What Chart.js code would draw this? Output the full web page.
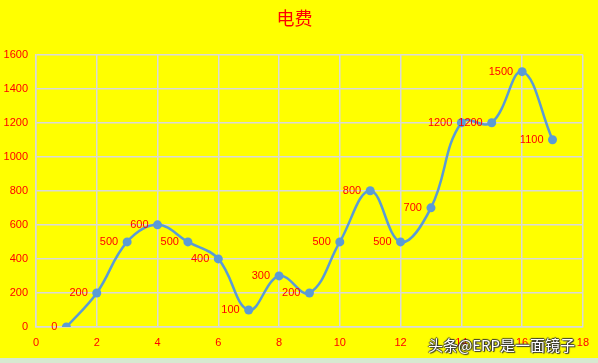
<!DOCTYPE html>
<html>
<head>
<meta charset="utf-8">
<script src="https://cdn.jsdelivr.net/npm/chart.js@4"></script>
<style>
    html, body { margin: 0; padding: 0; background: #FFFF00; }
    #wrap { position: relative; width: 598px; height: 363px; overflow: hidden; }
    #strip { position: absolute; left: 0; top: 358px; width: 598px; height: 5px; background: #D6E9D0; }
    #mark {
        position: absolute; left: 428px; top: 334px;
        font-family: "Noto Sans CJK SC", sans-serif; font-size: 15px; color: #fff;
        text-shadow: 1px 1px 1px #333, -1px 0 1px #333, 0 -1px 1px #333, 1px 0 1px #333;
    }
</style>
</head>
<body>
<div id="wrap">
    <canvas id="c" width="598" height="358"></canvas>
    <div id="strip"></div>
    <div id="mark">头条@ERP是一面镜子</div>
</div>
<script>
// 数据
const months = [1, 2, 3, 4, 5, 6, 7, 8, 9, 10, 11, 12, 13, 14, 15, 16, 17];
const fees = [0, 200, 500, 600, 500, 400, 100, 300, 200, 500, 800, 500, 700, 1200, 1200, 1500, 1100];
const xTicks = [0, 2, 4, 6, 8, 10, 12, 14, 16, 18];
const yTicks = [0, 200, 400, 600, 800, 1000, 1200, 1400, 1600];

const lineColor = '#5B9BD5';
const red = '#FF0000';
const gridColor = '#D9D9D9';

// 数据标签画在点的左边
const labelPlugin = {
    id: 'leftLabels',
    afterDatasetsDraw(chart) {
        const ctx = chart.ctx;
        const meta = chart.getDatasetMeta(0);
        ctx.save();
        ctx.font = '11px "Liberation Sans", sans-serif';
        ctx.fillStyle = red;
        ctx.textAlign = 'right';
        ctx.textBaseline = 'middle';
        meta.data.forEach((pt, i) => {
            ctx.fillText(String(fees[i]), pt.x - 9, pt.y);
        });
        ctx.restore();
    }
};

const ctx = document.getElementById('c').getContext('2d');
new Chart(ctx, {
    type: 'line',
    data: {
        datasets: [{
            data: months.map((m, i) => ({ x: m, y: fees[i] })),
            borderColor: lineColor,
            backgroundColor: lineColor,
            borderWidth: 2.5,
            pointRadius: 4.5,
            pointBorderWidth: 0,
            tension: 0.4,
            fill: false
        }]
    },
    options: {
        responsive: false,
        animation: false,
        layout: { padding: { right: 9, top: 0, left: 0, bottom: 0 } },
        plugins: {
            legend: { display: false },
            tooltip: { enabled: false },
            title: {
                display: true,
                text: '电费',
                color: red,
                font: { family: '"Noto Sans CJK SC", serif', size: 18, weight: 'normal' },
                padding: { top: 7, bottom: 26 }
            }
        },
        scales: {
            x: {
                type: 'linear',
                min: 0,
                max: 18,
                afterBuildTicks(scale) { scale.ticks = xTicks.map(v => ({ value: v })); },
                afterFit(scale) { scale.height = 31; },
                grid: { color: gridColor, lineWidth: 1.5, drawTicks: false },
                border: { color: gridColor, width: 1.5 },
                ticks: {
                    color: red,
                    padding: 9,
                    callback: v => String(v),
                    font: { family: '"Liberation Sans", sans-serif', size: 11 }
                }
            },
            y: {
                min: 0,
                max: 1600,
                afterBuildTicks(scale) { scale.ticks = yTicks.map(v => ({ value: v })); },
                afterFit(scale) { scale.width = 36; },
                grid: { color: gridColor, lineWidth: 1.5, drawTicks: false },
                border: { color: gridColor, width: 1.5 },
                ticks: {
                    color: red,
                    padding: 8,
                    callback: v => String(v),
                    font: { family: '"Liberation Sans", sans-serif', size: 11 }
                }
            }
        }
    },
    plugins: [labelPlugin]
});
</script>
</body>
</html>
